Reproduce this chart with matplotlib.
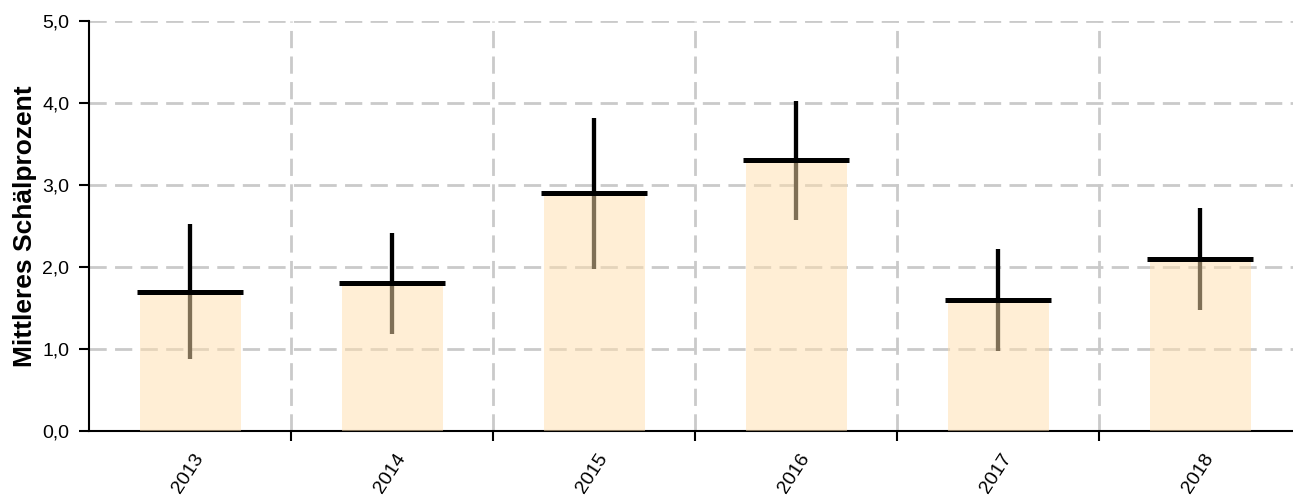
import matplotlib
matplotlib.use("Agg")
import matplotlib.pyplot as plt
import matplotlib.transforms as mtransforms
from matplotlib.ticker import FixedLocator, FuncFormatter
import numpy as np

plt.rcParams['font.family'] = ['Liberation Sans', 'DejaVu Sans']

years = ["2013", "2014", "2015", "2016", "2017", "2018"]
mean_peel = [1.70, 1.80, 2.90, 3.30, 1.60, 2.10]
err_peel = [0.82, 0.62, 0.92, 0.73, 0.62, 0.62]
y_ticks = [0.0, 1.0, 2.0, 3.0, 4.0, 5.0]

W, H = 1293, 497
fig = plt.figure(figsize=(W / 100, H / 100), dpi=100)
left, right, top, bottom = 89, 1301, 21, 431
ax = fig.add_axes([left / W, 1 - bottom / H, (right - left) / W, (bottom - top) / H])

x = np.arange(len(years))
bar_w = 0.5

# error bars sit underneath the translucent bars
ax.errorbar(x, mean_peel, yerr=err_peel, fmt='none', ecolor='black',
            elinewidth=3.1, capsize=0, zorder=2)
ax.bar(x, mean_peel, width=bar_w, color='navajowhite', alpha=0.5,
       linewidth=0, zorder=3)
ax.hlines(mean_peel, x - 0.262, x + 0.262, colors='black', linewidth=3.6,
          zorder=4)

ax.set_xlim(-0.5, len(years) - 0.5)
ax.set_ylim(0, 5)

ax.set_yticks(y_ticks)
ax.yaxis.set_major_formatter(FuncFormatter(lambda v, p: f"{v:.1f}".replace('.', ',')))

ax.set_xticks(x)
ax.set_xticklabels(years)
ax.xaxis.set_minor_locator(FixedLocator(np.arange(0.5, len(years) - 0.5, 1.0)))

ax.tick_params(axis='x', which='major', length=0, pad=17, labelsize=14)
ax.tick_params(axis='x', which='minor', length=7.2, width=1.5, color='black')
ax.tick_params(axis='y', length=7.2, width=1.5, labelsize=14, pad=7)

for lab in ax.get_xticklabels():
    lab.set_rotation(57)
    lab.set_ha('right')
    lab.set_va('center')
    lab.set_rotation_mode('anchor')
    lab.set_transform(lab.get_transform() +
                      mtransforms.ScaledTranslation(0.10, 0, fig.dpi_scale_trans))

grid_style = dict(linestyle=(0, (6.2, 3.0)), color='#cacaca', linewidth=2.0, zorder=0)
ax.grid(True, axis='y', which='major', **grid_style)
ax.grid(True, axis='x', which='minor', **grid_style)
ax.set_axisbelow(True)

for s in ['top', 'right']:
    ax.spines[s].set_visible(False)
for s in ['left', 'bottom']:
    ax.spines[s].set_linewidth(1.5)
    ax.spines[s].set_color('black')

ax.set_ylabel("Mittleres Schälprozent", fontsize=19, fontweight='bold')
ax.yaxis.set_label_coords(-0.0425, 0.5)

fig.savefig("out.png", dpi=100)
